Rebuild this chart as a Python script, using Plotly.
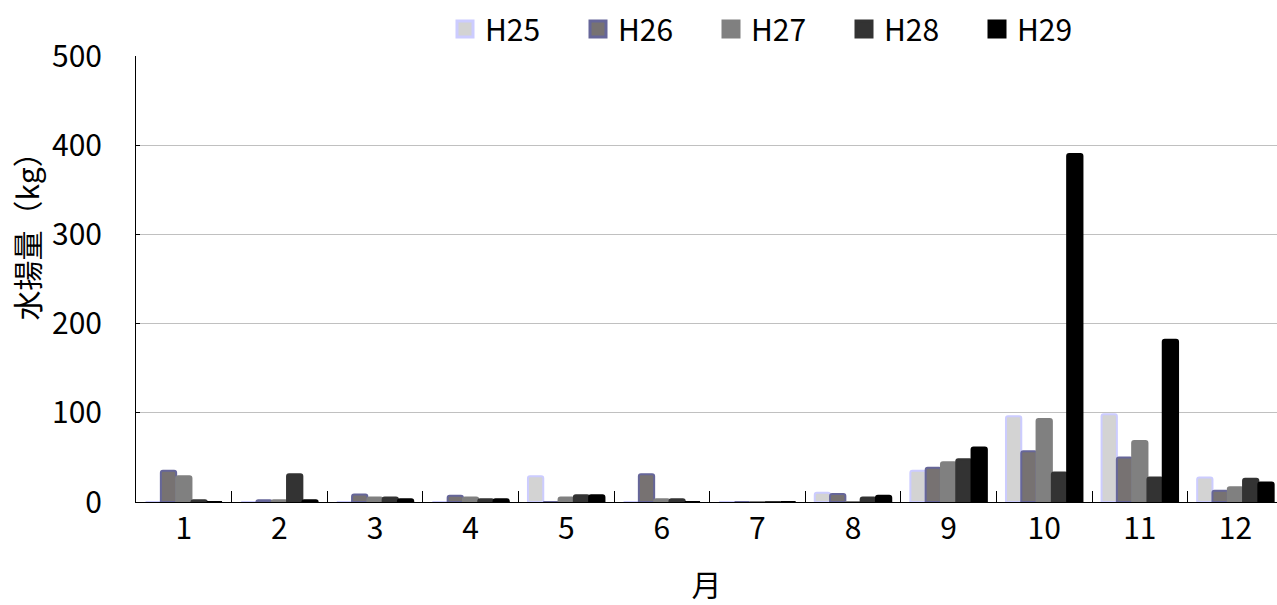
import plotly.graph_objects as go

months = ["1", "2", "3", "4", "5", "6", "7", "8", "9", "10", "11", "12"]
h25 = [0, 0, 0, 0, 29, 0, 0, 10.5, 35, 96, 98.5, 27.5]
h26 = [35, 2, 8.5, 7, 0, 31, 0, 9, 38.5, 57, 50, 12.5]
h27 = [29, 2, 5, 5, 5, 3, 0, 0, 44.5, 93, 68.5, 16.5]
h28 = [2, 31, 5, 3, 7.5, 3, 0, 5, 48, 33, 27.5, 26]
h29 = [0, 2, 3, 3, 7.5, 0, 0, 7, 61, 390, 182, 22]

series = [
    ("H25", h25, "#d3d3d3", "#ccccff"),
    ("H26", h26, "#777272", "#666699"),
    ("H27", h27, "#808080", "#808080"),
    ("H28", h28, "#333333", "#333333"),
    ("H29", h29, "#000000", "#000000"),
]

FONT = "Noto Sans CJK JP"

fig = go.Figure()
for name, vals, fill, line in series:
    fig.add_trace(go.Bar(
        x=months, y=vals, name=name, showlegend=False,
        marker=dict(color=fill, line=dict(color=line, width=2), cornerradius=2),
    ))
# legend entries with larger square swatches
for name, vals, fill, line in series:
    fig.add_trace(go.Scatter(
        x=[None], y=[None], name=name, mode="markers",
        marker=dict(symbol="square", size=21, color=fill, line=dict(color=line, width=3)),
    ))

fig.update_layout(
    width=1277, height=605,
    margin=dict(l=136, r=0, t=56, b=103, autoexpand=False),
    paper_bgcolor="white", plot_bgcolor="white",
    barmode="group", bargap=0.2, bargroupgap=0,
    font=dict(family=FONT, size=30, color="black"),
    legend=dict(orientation="h", x=(445 - 136) / 1141, xanchor="left",
                y=(502 - 29) / 446, yanchor="middle",
                font=dict(size=30), itemwidth=30, traceorder="normal",
                entrywidth=88, entrywidthmode="pixels",
                bgcolor="rgba(0,0,0,0)"),
    xaxis=dict(
        title=dict(text="月", font=dict(size=30), standoff=35),
        range=[-0.5, 11.435],
        showline=True, linecolor="black", linewidth=1,
        ticks="inside", tickson="boundaries", ticklen=11, tickcolor="black",
        tickfont=dict(size=30), ticklabelstandoff=0,
    ),
    yaxis=dict(
        range=[0, 500], tickvals=[0, 100, 200, 300, 400, 500],
        showline=True, linecolor="black", linewidth=1,
        ticks="inside", ticklen=4, tickcolor="black",
        showgrid=True, gridcolor="#c0c0c0", gridwidth=1,
        tickfont=dict(size=30), zeroline=False, ticklabelstandoff=27,
    ),
    annotations=[dict(
        text="水揚量（kg）", textangle=-90, showarrow=False,
        xref="paper", yref="paper", x=-0.096, xanchor="center",
        y=(502 - 229) / 446, yanchor="middle",
        font=dict(size=30, family=FONT, color="black"),
    )],
)

fig.write_html("out.html")
